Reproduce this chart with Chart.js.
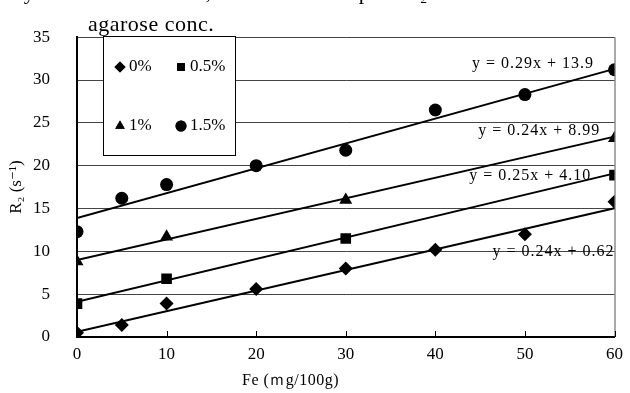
<!DOCTYPE html>
<html>
<head>
<meta charset="utf-8">
<script src="https://cdn.jsdelivr.net/npm/chart.js@4/dist/chart.umd.min.js"></script>
<style>
  html, body { margin: 0; padding: 0; background: #fff; }
  #wrap { position: relative; width: 630px; height: 393px; overflow: hidden; }
  #chart { position: absolute; left: 0; top: 0; }
  .txt { position: absolute; font-family: "Liberation Serif", "DejaVu Serif", serif; color: #000; white-space: nowrap; }
  #title1 { left: 8px; top: -21px; font-size: 22px; letter-spacing: 1px; }
  #title2 { left: 88px; top: 11px; font-size: 22px; letter-spacing: 0.5px; }
  #xtitle { left: 242px; top: 370px; font-size: 16px; letter-spacing: 0.5px; }
</style>
</head>
<body>
<div id="wrap">
  <canvas id="chart" width="630" height="393"></canvas>
  <div class="txt" id="title1">By Fe concentration, the relationship of R₂ at each</div>
  <div class="txt" id="title2">agarose conc.</div>
  <div class="txt" id="xtitle">Fe (ｍg/100g)</div>
</div>
<script>
// agarose concentrations
const series = ['0%', '0.5%', '1%', '1.5%']
const markers = ['rectRot', 'rect', 'triangle', 'circle']

// Fe (mg/100g) and R2 (1/s)
const fe0  = [0, 5, 10, 20, 30, 40, 50, 60]
const r2_0 = [0.5, 1.4, 3.9, 5.6, 8.0, 10.2, 12.0, 15.8]
const fe05  = [0, 10, 30, 60]
const r2_05 = [3.9, 6.8, 11.5, 18.9]
const fe1  = [0, 10, 30, 60]
const r2_1 = [8.8, 11.7, 16.0, 23.2]
const fe15  = [0, 5, 10, 20, 30, 40, 50, 60]
const r2_15 = [12.3, 16.2, 17.8, 20.0, 21.8, 26.5, 28.3, 31.2]

// linear fits shown on the chart
const slopes = [0.24, 0.25, 0.24, 0.29]
const intercepts = [0.62, 4.10, 8.99, 13.9]
const equations = ['y = 0.24x + 0.62', 'y = 0.25x + 4.10', 'y = 0.24x + 8.99', 'y = 0.29x + 13.9']
const eqAt = [[53.2, 9.9], [50.6, 18.8], [51.6, 24.1], [50.9, 31.9]]

const xTicks = [0, 10, 20, 30, 40, 50, 60]

let zip = (a, b) => a.map((x, i) => { return {'x': x, 'y': b[i]} })
const allX = [fe0, fe05, fe1, fe15]
const allY = [r2_0, r2_05, r2_1, r2_15]
const radii = [7, 7.5, 7.5, 6.5]

const FONT = '"Liberation Serif", "DejaVu Serif", serif'

let datasets = []
series.forEach((s, i) => {
    datasets.push({
        type: 'line',
        label: 'fit ' + s,
        data: [0, 60].map(x => ({x: x, y: slopes[i] * x + intercepts[i]})),
        borderColor: '#000',
        borderWidth: 2,
        pointRadius: 0,
        fill: false
    })
})
series.forEach((s, i) => {
    datasets.push({
        type: 'scatter',
        label: s,
        data: zip(allX[i], allY[i]),
        pointStyle: markers[i],
        pointRadius: radii[i],
        backgroundColor: '#000',
        borderColor: '#000',
        borderWidth: 0
    })
})

const extras = {
    id: 'extras',
    beforeDatasetsDraw(chart) {
        const ctx = chart.ctx
        const a = chart.chartArea
        // right frame line
        ctx.save()
        ctx.strokeStyle = '#555'
        ctx.lineWidth = 1
        ctx.beginPath()
        ctx.moveTo(a.right + 0.5, a.top)
        ctx.lineTo(a.right + 0.5, a.bottom)
        ctx.stroke()
        // inward x tick marks
        ctx.strokeStyle = '#000'
        ctx.beginPath()
        xTicks.forEach(v => {
            const px = Math.round(chart.scales.x.getPixelForValue(v)) + 0.5
            ctx.moveTo(px, a.bottom)
            ctx.lineTo(px, a.bottom - 6)
        })
        ctx.stroke()
        // legend box inside the plot
        const bx = 103.5, by = 36.5, bw = 132, bh = 119
        ctx.fillStyle = '#fff'
        ctx.fillRect(bx, by, bw, bh)
        ctx.strokeStyle = '#000'
        ctx.strokeRect(bx, by, bw, bh)
        const pos = [[120, 67], [181, 67], [120, 126], [181, 126]]
        ctx.font = '17px ' + FONT
        ctx.textBaseline = 'middle'
        series.forEach((s, i) => {
            ctx.fillStyle = '#000'
            ctx.strokeStyle = '#000'
            Chart.helpers.drawPoint(ctx, {pointStyle: markers[i], radius: 5.5, rotation: 0, borderWidth: 0}, pos[i][0], pos[i][1])
            ctx.fill()
            ctx.fillText(s, pos[i][0] + 9, pos[i][1])
        })
        ctx.restore()
    },
    afterDatasetsDraw(chart) {
        const ctx = chart.ctx
        ctx.save()
        ctx.font = '16px ' + FONT
        ctx.letterSpacing = '1px'
        ctx.fillStyle = '#000'
        ctx.textAlign = 'center'
        ctx.textBaseline = 'middle'
        equations.forEach((e, i) => {
            ctx.fillText(e, chart.scales.x.getPixelForValue(eqAt[i][0]), chart.scales.y.getPixelForValue(eqAt[i][1]))
        })
        ctx.restore()
    }
}

new Chart(document.getElementById('chart'), {
    type: 'scatter',
    data: { datasets: datasets },
    options: {
        responsive: false,
        animation: false,
        layout: { padding: { top: 31, right: 13, left: 0, bottom: 0 } },
        plugins: { legend: { display: false }, tooltip: { enabled: false } },
        scales: {
            x: {
                type: 'linear', min: 0, max: 60,
                afterFit: s => { s.height = 56 },
                ticks: { stepSize: 10, color: '#000', padding: 7, font: { family: FONT, size: 17 } },
                grid: { display: true, drawOnChartArea: false, drawTicks: false },
                border: { color: '#000', width: 2 }
            },
            y: {
                type: 'linear', min: 0, max: 35,
                afterFit: s => { s.width = 77 },
                ticks: { stepSize: 5, color: '#000', padding: 27, font: { family: FONT, size: 17 } },
                grid: { color: '#444', lineWidth: 1, drawTicks: false },
                border: { color: '#000', width: 2 },
                title: { display: true, text: 'R₂ (s⁻¹)', color: '#000', padding: { top: 6, bottom: 0 }, font: { family: FONT, size: 17 } }
            }
        }
    },
    plugins: [extras]
})
</script>
</body>
</html>
